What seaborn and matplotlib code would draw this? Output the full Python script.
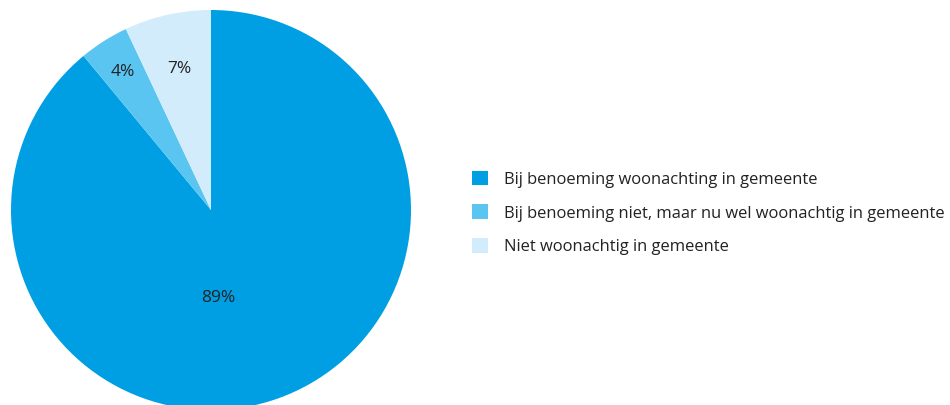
import matplotlib
matplotlib.use("Agg")
import matplotlib.pyplot as plt
import seaborn as sns
import numpy as np

categories = [
    "Bij benoeming woonachting in gemeente",
    "Bij benoeming niet, maar nu wel woonachtig in gemeente",
    "Niet woonachtig in gemeente",
]
values = [89, 4, 7]
colors = ["#009fe3", "#5bc5f2", "#d3ecfb"]

sns.set_theme(style="white")
plt.rcParams["font.family"] = ["Open Sans", "DejaVu Sans"]

fig = plt.figure(figsize=(9.5, 4.05), dpi=100)
ax = fig.add_axes([11 / 950, -5 / 405, 400 / 950, 400 / 405])

wedges, texts = ax.pie(
    values,
    colors=colors,
    startangle=90,
    counterclock=False,
    radius=1,
    labels=[f"{v}%" for v in values],
    labeldistance=0.78,
    textprops={"fontsize": 12.5, "color": "#222222", "ha": "center", "va": "center"},
    wedgeprops={"linewidth": 0},
)
label_r = [0.44, 0.82, 0.72]
for w, t, r in zip(wedges, texts, label_r):
    ang = np.deg2rad((w.theta1 + w.theta2) / 2)
    t.set_position((r * np.cos(ang), r * np.sin(ang)))
texts[0].set_position((0.035, -0.44))

ax.set_xlim(-1, 1)
ax.set_ylim(-1, 1)
ax.set_aspect("auto")
ax.axis("off")

leg = fig.legend(
    wedges,
    categories,
    loc="center left",
    bbox_to_anchor=(472 / 950, 1 - 213 / 405),
    frameon=False,
    fontsize=11.85,
    handlelength=1.0,
    handleheight=1.0,
    handletextpad=0.97,
    labelspacing=1.03,
    borderpad=0,
    borderaxespad=0,
    labelcolor="#222222",
)

fig.savefig("out.png", dpi=100)
